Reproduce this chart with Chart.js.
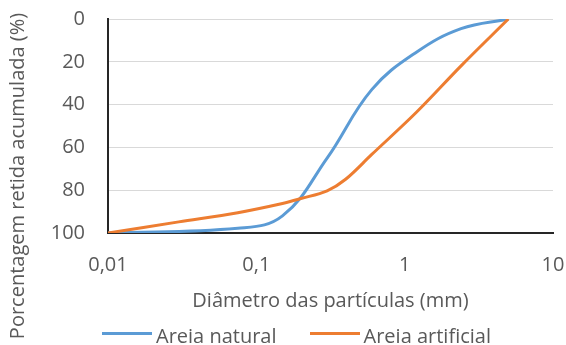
<!DOCTYPE html>
<html lang="pt">
<head>
<meta charset="utf-8">
<title>Curva granulométrica</title>
<script src="https://cdn.jsdelivr.net/npm/chart.js@4"></script>
<style>
  html, body { margin: 0; padding: 0; background: #fff; }
  .wrap { position: relative; width: 566px; height: 345px; overflow: hidden; }
  #chart { position: absolute; left: 0; top: 0; }
  .legend {
    position: absolute; left: 0; top: 324px; width: 593px;
    display: flex; justify-content: center; align-items: center;
    font: 20px/24px 'Open Sans', sans-serif; color: #595959; white-space: nowrap;
  }
  .legend .item { display: flex; align-items: center; }
  .legend .item + .item { margin-left: 33px; }
  .legend .swatch { width: 50px; height: 3px; margin-right: 4px; position: relative; top: -3px; }
</style>
</head>
<body>
<div class="wrap">
  <canvas id="chart" width="566" height="345"></canvas>
  <div class="legend" id="legend"></div>
</div>
<script>
// --- data ---
// Areia natural
const naturalDiameters = [0.01, 0.075, 0.15, 0.3, 0.6, 1.2, 2.4, 5];   // mm
const naturalRetained = [100, 97.8, 92, 65, 33, 15.5, 4.5, 0];          // %
// Areia artificial
const artificialDiameters = [0.01, 0.03, 0.075, 0.15, 0.2, 0.3, 0.4, 0.6, 1.2, 2.4, 5]; // mm
const artificialRetained = [100, 94.8, 90.5, 86.2, 83.9, 80.3, 74.9, 63.3, 43.6, 21.9, 0]; // %

const seriesNames = ['Areia natural', 'Areia artificial'];
const seriesColors = ['#5B9BD5', '#ED7D31'];

const xTickValues = [0.01, 0.1, 1, 10];
const xTickLabels = ['0,01', '0,1', '1', '10'];
const yTickValues = [0, 20, 40, 60, 80, 100];

const xTitle = 'Diâmetro das partículas (mm)';
const yTitle = 'Porcentagem retida acumulada (%)';

const textColor = '#595959';

Chart.defaults.font.family = "'Open Sans', sans-serif";
Chart.defaults.font.size = 20;
Chart.defaults.color = textColor;

function toPoints(xs, ys) {
    return xs.map((d, i) => ({ x: d, y: ys[i] }));
}

// y title is centred on the whole figure height, not the plot area
const yTitlePlugin = {
    id: 'yTitle',
    afterDraw(chart) {
        const ctx = chart.ctx;
        ctx.save();
        ctx.translate(18, 176);
        ctx.rotate(-Math.PI / 2);
        ctx.font = "20px 'Open Sans', sans-serif";
        ctx.fillStyle = textColor;
        ctx.textAlign = 'center';
        ctx.textBaseline = 'middle';
        ctx.fillText(yTitle, 0, 0);
        ctx.restore();
    }
};

new Chart(document.getElementById('chart'), {
    type: 'line',
    data: {
        datasets: [
            {
                label: seriesNames[0],
                data: toPoints(naturalDiameters, naturalRetained),
                borderColor: seriesColors[0],
                backgroundColor: seriesColors[0],
                borderWidth: 3,
                pointRadius: 0,
                tension: 0.4,
                order: 1
            },
            {
                label: seriesNames[1],
                data: toPoints(artificialDiameters, artificialRetained),
                borderColor: seriesColors[1],
                backgroundColor: seriesColors[1],
                borderWidth: 3,
                pointRadius: 0,
                tension: 0.35,
                order: 0
            }
        ]
    },
    options: {
        responsive: false,
        animation: false,
        devicePixelRatio: 1,
        layout: { padding: { left: 0, right: 13, top: 19, bottom: 0 } },
        plugins: {
            legend: { display: false },
            tooltip: { enabled: false }
        },
        scales: {
            x: {
                type: 'logarithmic',
                min: 0.01,
                max: 10,
                afterBuildTicks: scale => { scale.ticks = xTickValues.map(v => ({ value: v })); },
                afterFit: scale => {
                    scale.height = 112;
                    scale.paddingLeft = 0;
                    scale.paddingRight = 0;
                },
                ticks: {
                    padding: 20,
                    autoSkip: false,
                    maxRotation: 0,
                    callback: value => xTickLabels[xTickValues.indexOf(value)]
                },
                grid: { display: false, drawTicks: false },
                border: { display: true, color: '#262626', width: 2 },
                title: {
                    display: true,
                    text: xTitle,
                    color: textColor,
                    font: { size: 20 },
                    padding: { top: 0, bottom: 32 }
                }
            },
            y: {
                reverse: true,
                min: 0,
                max: 100,
                afterBuildTicks: scale => { scale.ticks = yTickValues.map(v => ({ value: v })); },
                afterFit: scale => {
                    scale.width = 108;
                    scale.paddingTop = 0;
                    scale.paddingBottom = 0;
                },
                ticks: { padding: 23 },
                grid: { color: '#d9d9d9', lineWidth: 1, drawTicks: false },
                border: { display: true, color: '#262626', width: 2 }
            }
        }
    },
    plugins: [yTitlePlugin]
});

// legend below the plot
const legend = document.getElementById('legend');
legend.innerHTML = seriesNames.map((name, i) =>
    `<span class="item"><span class="swatch" style="background:${seriesColors[i]}"></span>${name}</span>`
).join('');
</script>
</body>
</html>
